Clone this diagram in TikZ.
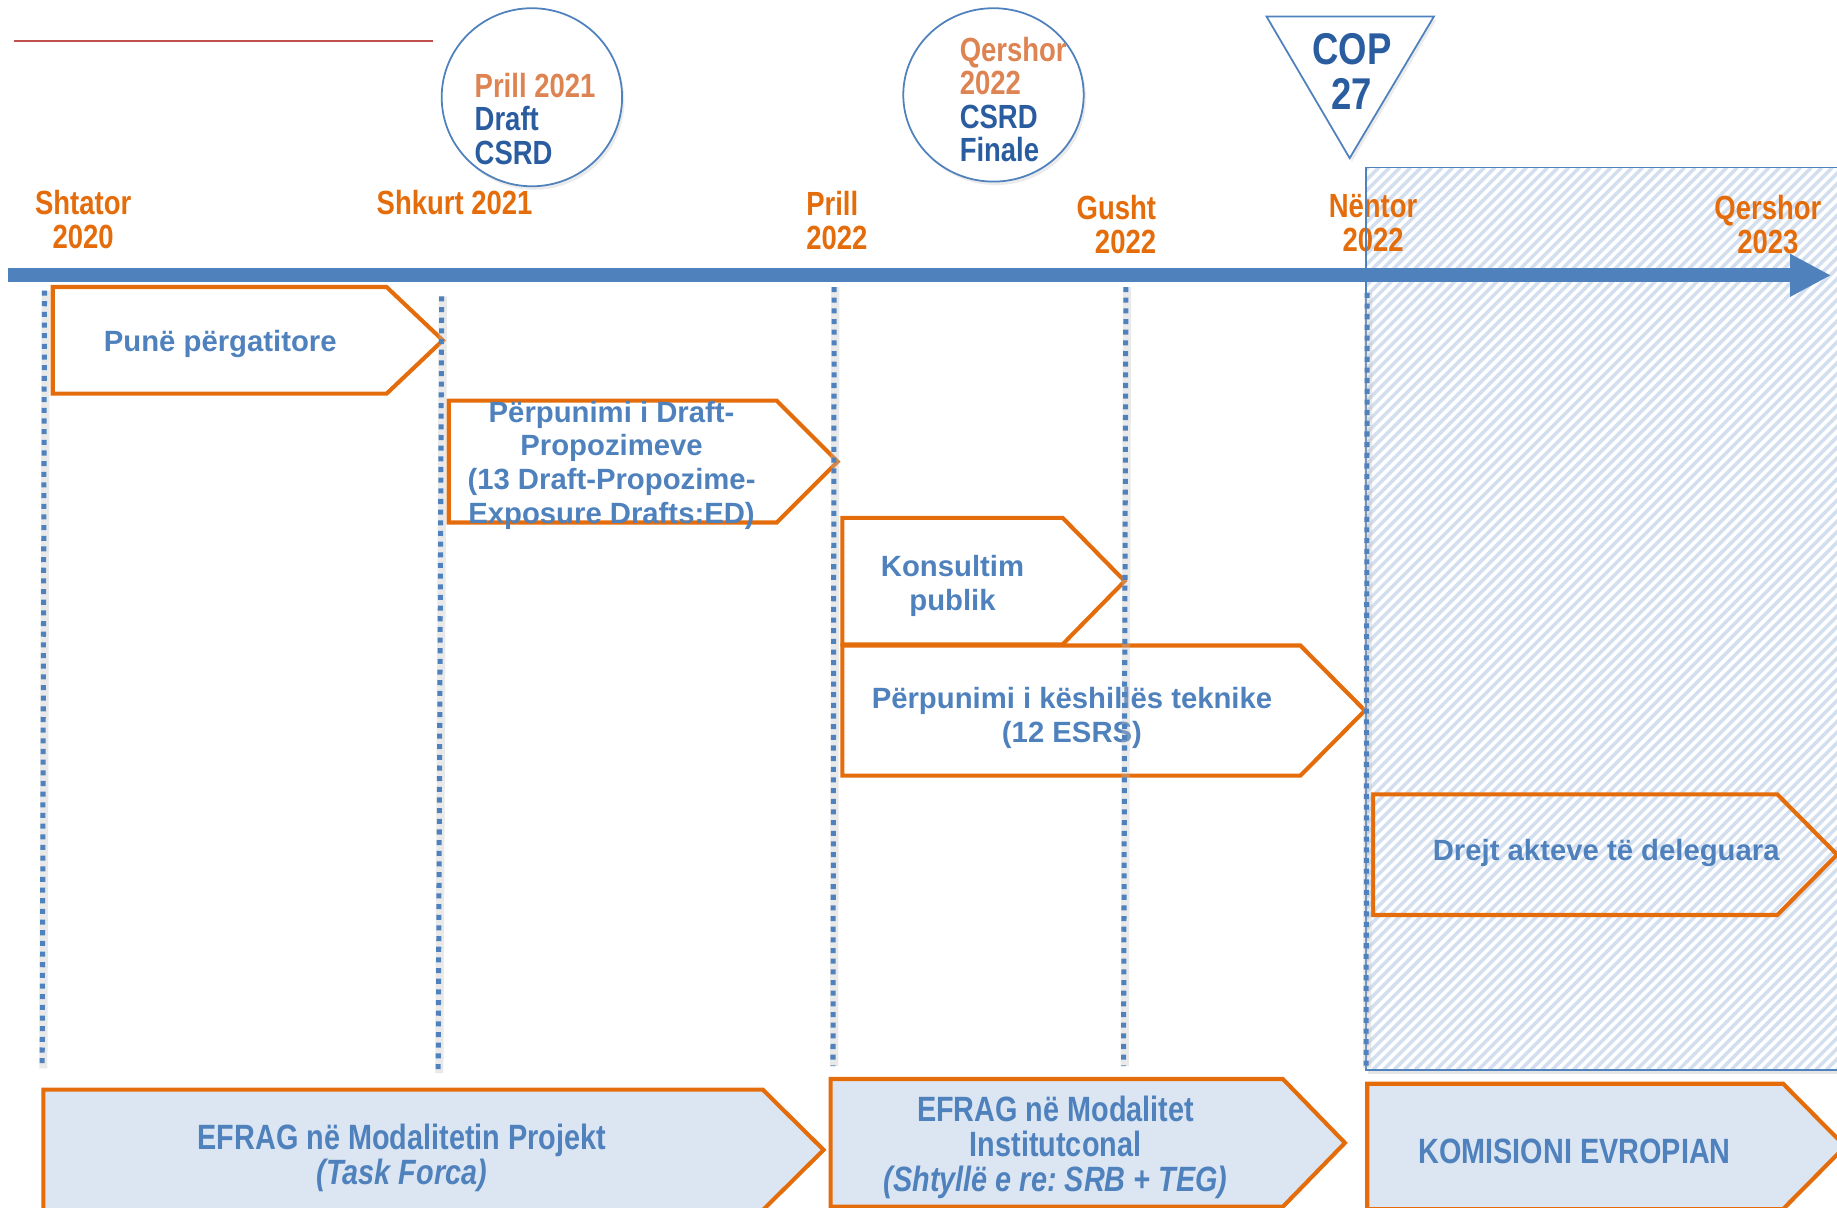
\documentclass[tikz,border=0pt]{standalone}
\usepackage{fontspec}
\setmainfont{Liberation Sans}
\newfontfamily\narrowf[FakeStretch=0.82]{Liberation Sans}
\usetikzlibrary{arrows.meta}
\frenchspacing
\definecolor{axblue}{HTML}{4F81BD}
\definecolor{dblue}{HTML}{2A5CA0}
\definecolor{dorange}{HTML}{E46C0A}
\definecolor{lorange}{HTML}{DD8452}
\definecolor{hatchc}{HTML}{D3DFEF}
\definecolor{boxfill}{HTML}{DCE6F2}
\definecolor{redl}{HTML}{C0504D}
\newcommand{\chevbox}[6]{%
  \draw[#1] (#2,#3) -- (#4,#3) -- (#5,{(#3+#6)/2}) -- (#4,#6) -- (#2,#6) -- cycle;}
\tikzset{
  datelbl/.style={font=\narrowf\bfseries\fontsize{28.6}{29}\selectfont, text=dorange, inner sep=0},
  circtxt/.style={font=\narrowf\bfseries\fontsize{28.6}{28.7}\selectfont, align=left, inner sep=0, anchor=west},
  boxtxt/.style={font=\bfseries\fontsize{25}{28.7}\selectfont, text=axblue, align=center, inner sep=0},
  bottxt/.style={font=\narrowf\bfseries\fontsize{30}{30}\selectfont, text=axblue, align=center, inner sep=0},
  obox/.style={draw=dorange, line width=3.5, line join=miter},
  fbox/.style={obox, fill=boxfill},
  vdot/.style={draw=axblue, line width=4.3, dash pattern=on 4.3 off 4.8},
  vshadow/.style={draw=black!25, line width=7, opacity=0.35},
  bubble/.style={draw=axblue, line width=1.5, fill=white},
}
\begin{document}
\begin{tikzpicture}[x=1pt,y=-1pt]
\useasboundingbox (0,0) rectangle (1568,1031);
% red line
\coordinate (r1) at (12,35); \coordinate (r2) at (370,35);
\draw[redl, line width=1.5] (r1) -- (r2);
% hatched region
\begin{scope}
  \clip (1166,143) rectangle (1568,913);
  \foreach \x in {380,389,...,1580} \draw[hatchc, line width=3] (\x,913) -- (\x+770,143);
\end{scope}
% bubbles
\fill[black!20, opacity=0.4] (456,86) ellipse [x radius=77, y radius=76];
\draw[bubble] (454,83) ellipse [x radius=77, y radius=76];
\node[circtxt] (c1) at (405,101.5) {\textcolor{lorange}{Prill 2021}\\\textcolor{dblue}{Draft}\\\textcolor{dblue}{CSRD}};
\fill[black!20, opacity=0.4] (850,84) ellipse [x radius=77, y radius=74];
\draw[bubble] (848,81) ellipse [x radius=77, y radius=74];
\node[circtxt] (c2) at (819,85) {\textcolor{lorange}{Qershor}\\\textcolor{lorange}{2022}\\\textcolor{dblue}{CSRD}\\\textcolor{dblue}{Finale}};
% COP triangle
\fill[black!20, opacity=0.4] (1083,17) -- (1226,17) -- (1154,138) -- cycle;
\draw[bubble, line join=miter] (1081,14) -- (1224,14) -- (1152,135) -- cycle;
\node[font=\narrowf\bfseries\fontsize{38}{38}\selectfont, text=dblue, align=center, inner sep=0] (cop) at (1154,61) {COP\\27};
% date labels
\node[datelbl, align=center] (d1) at (71,187.5) {Shtator\\2020};
\node[datelbl] (d2) at (388,173) {Shkurt 2021};
\node[datelbl, align=left, anchor=west] (d3) at (688,188) {Prill\\2022};
\node[datelbl, align=right, anchor=east] (d4) at (987,192) {Gusht\\2022};
\node[datelbl, align=center] (d5) at (1172,190.5) {Nëntor\\2022};
\node[datelbl, align=center] (d6) at (1509,192) {Qershor\\2023};
% hatched rect outline
\draw[black!20, line width=3, opacity=0.5] (1168,915) -- (1568,915);
\draw[axblue, line width=1.5] (1568,143) -- (1166,143) -- (1166,913) -- (1568,913);
% axis
\coordinate (a0) at (7,235); \coordinate (a1) at (1563,235);
\draw[axblue, line width=12, -{Triangle[length=35pt,width=34pt]}] (a0) -- (a1);
% upper boxes
\chevbox{obox}{45}{245}{330}{378}{336}
\node[boxtxt] (b1) at (188,294) {Punë përgatitore};
\chevbox{obox}{383}{342}{663}{715}{446}
\node[boxtxt] (b2) at (522,397) {Përpunimi i Draft-\\Propozimeve\\(13 Draft-Propozime-\\Exposure Drafts:ED)};
\chevbox{obox}{719}{442}{907}{960}{550}
\node[boxtxt] (b3) at (813,500) {Konsultim\\publik};
\chevbox{obox}{719}{551}{1110}{1165}{662}
\node[boxtxt] (b4) at (915,613) {Përpunimi i këshillës teknike\\(12 ESRS)};
\chevbox{obox}{1172}{678}{1517}{1568}{781}
\node[boxtxt] (b5) at (1371,728) {Drejt akteve të deleguara};
% dotted verticals
\foreach \xa/\ya/\xb/\yb in {38/248/36/912, 377/253/374/916, 712/245/711/910, 961/245/959/910, 1167/250/1166/912}{
  \draw[vshadow] (\xa+1,\ya) -- (\xb+1,\yb);
  \draw[vdot] (\xa,\ya) -- (\xb,\yb);
}
% bottom boxes
\chevbox{fbox}{37}{930}{651}{703}{1033}
\node[bottxt] (e1) at (343,988) {EFRAG në Modalitetin Projekt\\\textit{(Task Forca)}};
\chevbox{fbox}{709}{921}{1095}{1148}{1030}
\node[bottxt] (e2) at (901,979.5) {EFRAG në Modalitet\\Institutconal\\\textit{(Shtyllë e re: SRB + TEG)}};
\chevbox{fbox}{1167}{925}{1522}{1575}{1032}
\node[bottxt] (e3) at (1344,983) {KOMISIONI EVROPIAN};
\end{tikzpicture}
\end{document}
